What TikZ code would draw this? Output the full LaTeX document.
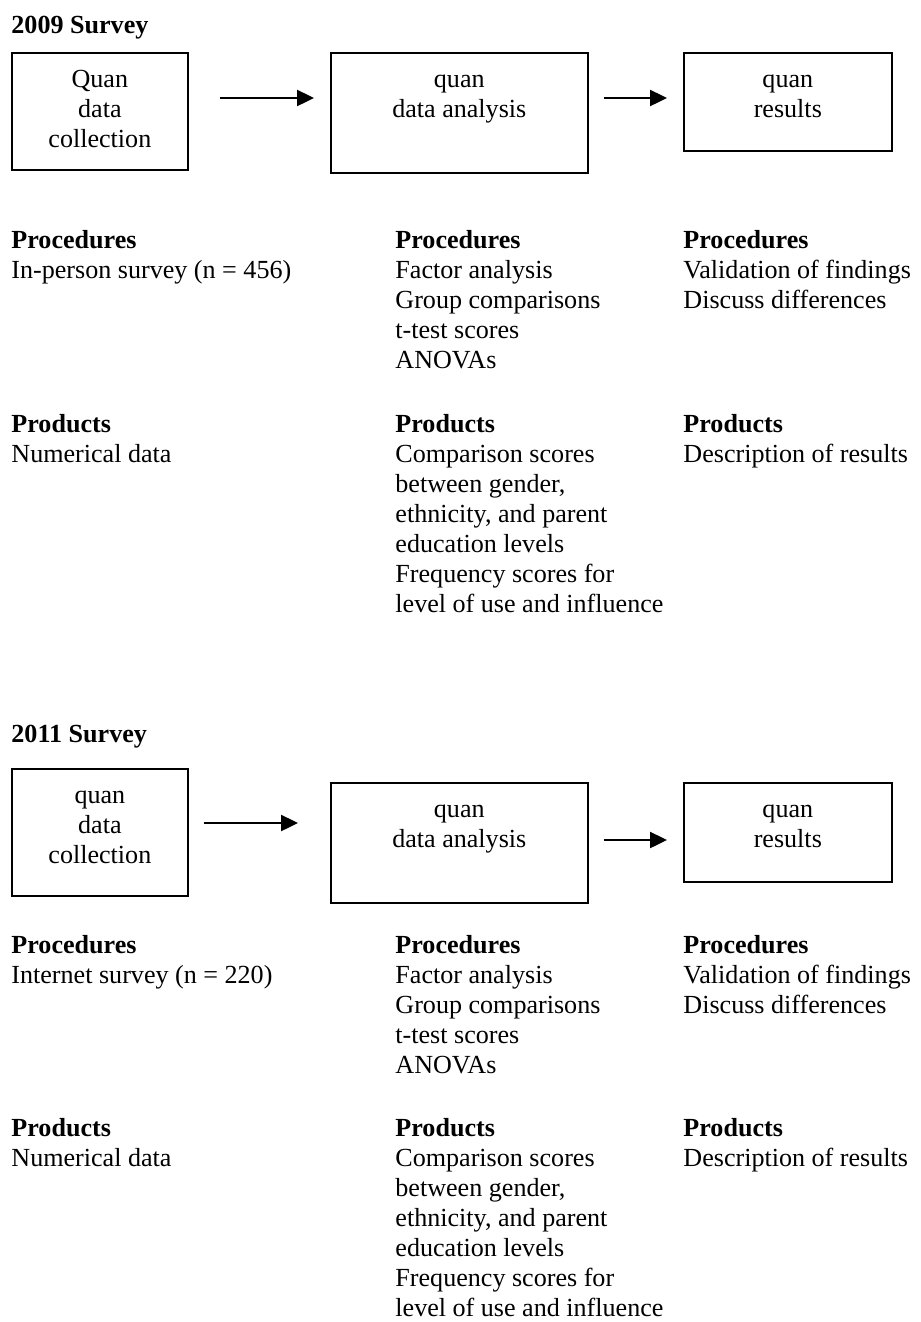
\documentclass[tikz,border=0pt]{standalone}
\usepackage{fontspec}
\setmainfont{Liberation Serif}
\usetikzlibrary{arrows.meta,calc}
\begin{document}
\begin{tikzpicture}[x=0.46pt,y=-0.46pt,
            font=\fontsize{12}{13.8}\selectfont,
            box/.style={draw,line width=0.75pt,anchor=north west,inner sep=0pt,align=flush center,text height=16.1pt},
            narrow/.style={box,text width=81pt},
            wide/.style={box,text width=118.2pt},
            medium/.style={box,text width=95.7pt},
            txt/.style={anchor=base west,inner sep=0pt,align=flush left,text width=160pt},
            arr/.style={line width=0.9pt,-{Triangle[length=7.8pt,width=7.4pt]}}]
            \useasboundingbox (0,0) rectangle (921,1322);
            % 2009
            \node[txt] (t1) at (11,33) {\textbf{2009 Survey}};
            \node[narrow,text depth=37.7pt] (c1) at (11,52) {Quan\\data\\collection};
            \node[wide,text depth=39.1pt] (c2) at (330,52) {quan\\data analysis};
            \node[medium,text depth=29pt] (c3) at (683,52) {quan\\results};
            \draw[arr] ($(c1.north east)+(31,46)$) -- ($(c2.north west)+(-16,46)$);
            \draw[arr] ($(c2.north east)+(15,46)$) -- ($(c3.north west)+(-16,46)$);
            \node[txt] (p1) at (11,248) {\textbf{Procedures}\\In-person survey (n = 456)};
            \node[txt] (p2) at (395,248) {\textbf{Procedures}\\Factor analysis\\Group comparisons\\t-test scores\\ANOVAs};
            \node[txt] (p3) at (683,248) {\textbf{Procedures}\\Validation of findings\\Discuss differences};
            \node[txt] (r1) at (11,432) {\textbf{Products}\\Numerical data};
            \node[txt] (r2) at (395,432) {\textbf{Products}\\Comparison scores\\between gender,\\ethnicity, and parent\\education levels\\Frequency scores for\\level of use and influence};
            \node[txt] (r3) at (683,432) {\textbf{Products}\\Description of results};
            % 2011
            \node[txt] (t2) at (11,742) {\textbf{2011 Survey}};
            \node[narrow,text depth=42.3pt] (d1) at (11,768) {quan\\data\\collection};
            \node[wide,text depth=39.1pt] (d2) at (330,782) {quan\\data analysis};
            \node[medium,text depth=29.4pt] (d3) at (683,782) {quan\\results};
            \draw[arr] ($(d1.north east)+(15,55)$) -- ($(d2.north west)+(-32,41)$);
            \draw[arr] ($(d2.north east)+(15,58)$) -- ($(d3.north west)+(-16,58)$);
            \node[txt] (q1) at (11,953) {\textbf{Procedures}\\Internet survey (n = 220)};
            \node[txt] (q2) at (395,953) {\textbf{Procedures}\\Factor analysis\\Group comparisons\\t-test scores\\ANOVAs};
            \node[txt] (q3) at (683,953) {\textbf{Procedures}\\Validation of findings\\Discuss differences};
            \node[txt] (s1) at (11,1136) {\textbf{Products}\\Numerical data};
            \node[txt] (s2) at (395,1136) {\textbf{Products}\\Comparison scores\\between gender,\\ethnicity, and parent\\education levels\\Frequency scores for\\level of use and influence};
            \node[txt] (s3) at (683,1136) {\textbf{Products}\\Description of results};
        \end{tikzpicture}
\end{document}
